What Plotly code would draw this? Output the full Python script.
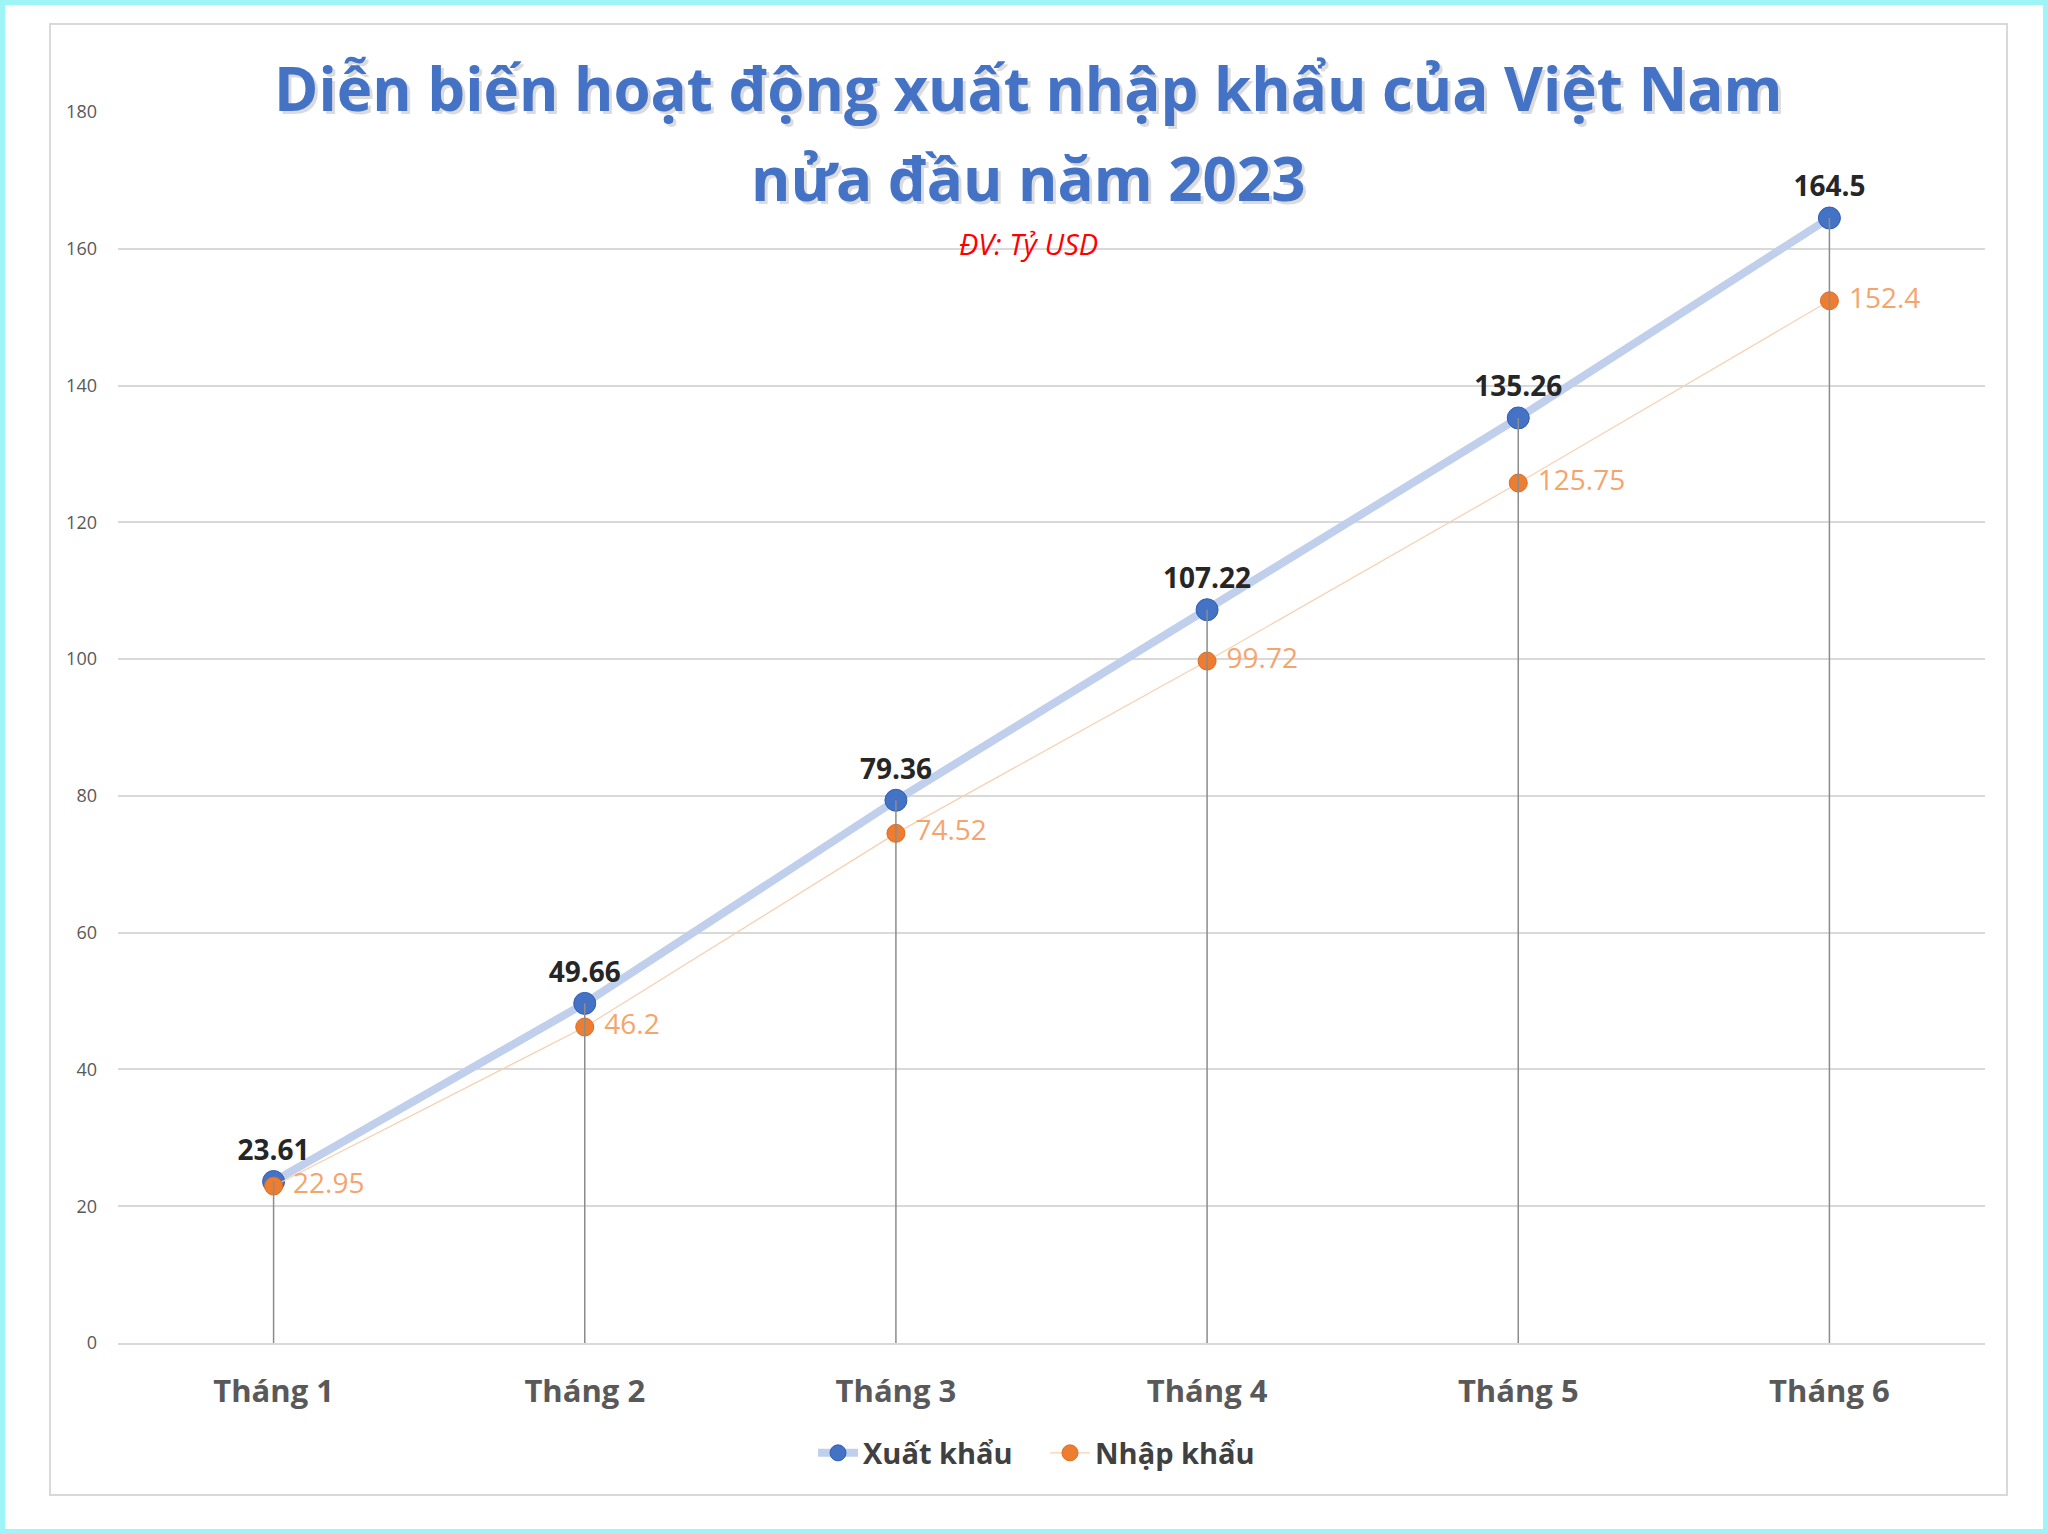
import plotly.graph_objects as go

# data (ty USD, luy ke)
thang = ["Tháng 1", "Tháng 2", "Tháng 3", "Tháng 4", "Tháng 5", "Tháng 6"]
xuat_khau = [23.61, 49.66, 79.36, 107.22, 135.26, 164.5]
nhap_khau = [22.95, 46.2, 74.52, 99.72, 125.75, 152.4]

W, H = 2048, 1534
ML, MR, MT, MB = 118, 63, 112, 191
PW, PH = W - ML - MR, H - MT - MB


def px_x(p):
    return (p - ML) / PW


def px_y(p):
    return (H - MB - p) / PH


FONT = "Open Sans"

fig = go.Figure()

fig.add_trace(go.Scatter(
    x=thang, y=xuat_khau, name="Xuất khẩu", mode="lines+markers+text",
    line=dict(color="#bfcfec", width=8),
    marker=dict(size=22, color="#4472c4", line=dict(color="#2f5fb3", width=1)),
    text=[str(v) for v in xuat_khau], textposition="top center",
    textfont=dict(family=FONT, size=28, color="#262626", weight="bold"),
))
fig.add_trace(go.Scatter(
    x=thang, y=nhap_khau, name="Nhập khẩu", mode="lines+markers+text",
    line=dict(color="#f8cfb0", width=1.2),
    marker=dict(size=18, color="#ed7d31", line=dict(color="#e06c20", width=1)),
    text=[" " + str(v) for v in nhap_khau], textposition="middle right",
    textfont=dict(family=FONT, size=28, color="#f4a56e"),
))

# drop lines
dx, dy = [], []
for c, v in zip(thang, xuat_khau):
    dx += [c, c, None]
    dy += [v, 0, None]
fig.add_trace(go.Scatter(x=dx, y=dy, mode="lines", showlegend=False,
                         line=dict(color="#8c8c8c", width=1.5), hoverinfo="skip"))

title1 = "Diễn biến hoạt động xuất nhập khẩu của Việt Nam"
title2 = "nửa đầu năm 2023"
for txt, yy in [(title1, 88), (title2, 178)]:
    # soft shadow
    fig.add_annotation(x=px_x(1031), y=px_y(yy + 3), xref="paper", yref="paper",
                       text=txt, showarrow=False, xanchor="center", yanchor="middle",
                       font=dict(family=FONT, size=60, color="rgba(0,0,0,0.14)", weight="bold"))
    fig.add_annotation(x=px_x(1028), y=px_y(yy), xref="paper", yref="paper",
                       text=txt, showarrow=False, xanchor="center", yanchor="middle",
                       font=dict(family=FONT, size=60, color="#4472c4", weight="bold"))

fig.add_annotation(x=px_x(1028), y=px_y(243), xref="paper", yref="paper",
                   text="<i>ĐV: Tỷ USD</i>", showarrow=False, xanchor="center", yanchor="middle",
                   font=dict(family=FONT, size=29, color="#ff0000"))

fig.update_layout(
    width=W, height=H,
    margin=dict(l=ML, r=MR, t=MT, b=MB),
    paper_bgcolor="white", plot_bgcolor="white",
    font=dict(family=FONT, color="#595959"),
    showlegend=True,
    legend=dict(orientation="h", x=px_x(1045), y=px_y(1453), xanchor="center", yanchor="middle",
                font=dict(family=FONT, size=29, color="#404040", weight="bold"),
                itemwidth=40, traceorder="normal", entrywidth=177, entrywidthmode="pixels"),
    shapes=[
        dict(type="rect", xref="paper", yref="paper", x0=px_x(0), x1=px_x(W), y0=px_y(H), y1=px_y(0),
             line=dict(color="#9ef5f8", width=10), layer="above"),
        dict(type="rect", xref="paper", yref="paper", x0=px_x(50), x1=px_x(2007), y0=px_y(1495), y1=px_y(24),
             line=dict(color="#d9d9d9", width=2), layer="below"),
    ],
)
fig.update_xaxes(range=[-0.5, 5.5], showgrid=False, showline=True, linecolor="#d9d9d9", linewidth=2,
                 ticks="", ticklabelstandoff=20,
                 tickfont=dict(family=FONT, size=31, color="#595959", weight="bold"))
fig.update_yaxes(range=[0, 180], dtick=20, showgrid=True, gridcolor="#d9d9d9", gridwidth=2,
                 zeroline=False, showline=False, ticks="", ticklabelstandoff=20,
                 tickfont=dict(family=FONT, size=18, color="#595959"))

fig.write_html("out.html", config={"displayModeBar": False},
               post_script="document.body.style.margin='0';")
